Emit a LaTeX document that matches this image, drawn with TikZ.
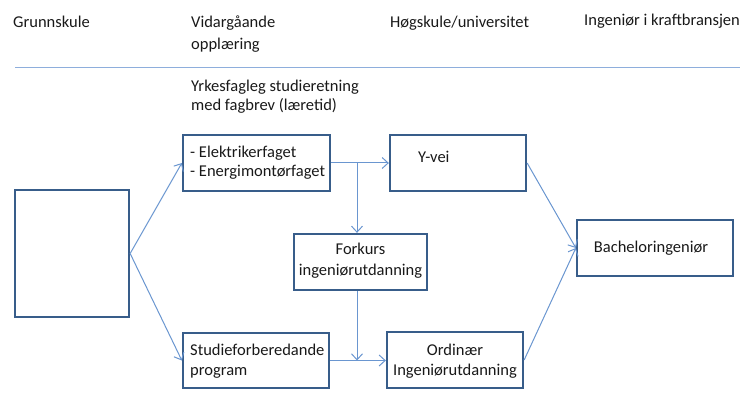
\documentclass[tikz,border=0pt]{standalone}
\usepackage{fontspec}
\setmainfont{Carlito}
\usetikzlibrary{arrows.meta}
\definecolor{boxc}{HTML}{385D8A}
\definecolor{arrc}{HTML}{6A96D0}
\definecolor{rulec}{HTML}{8EAEDC}
\tikzset{
  box/.style={draw=boxc, line width=2.3pt, rectangle, inner sep=0pt},
  conn/.style={draw=arrc, line width=1pt, -{Straight Barb[length=6pt,width=11pt,line width=1pt]}},
  txt/.style={inner sep=0pt, font=\fontsize{16.5}{19.5}\selectfont, text=black!90},
}
\begin{document}
\begin{tikzpicture}[x=1pt,y=-1pt]
\useasboundingbox (0,0) rectangle (750,414);
% header
\node[txt, anchor=base west] (h1) at (13,28) {Grunnskule};
\node[txt, anchor=base west, align=left] (h2) at (191,50) {Vidargåande\\[2.5pt]opplæring};
\node[txt, anchor=base west] (h3) at (390,28) {Høgskule/universitet};
\node[txt, anchor=base west] (h4) at (584,26) {Ingeniør i kraftbransjen};
\coordinate (r1) at (15,68);
\coordinate (r2) at (740,68);
\draw[draw=rulec, line width=1pt] (r1) -- (r2);
\node[txt, anchor=base west, align=left] (yrk) at (191,111) {Yrkesfagleg studieretning\\med fagbrev (læretid)};
% boxes
\node[box, minimum width=114pt, minimum height=127pt] (gs) at (72,253.5) {};
\node[box, minimum width=147pt, minimum height=56pt] (el) at (256.5,163) {};
\node[box, minimum width=136pt, minimum height=56pt] (yv) at (458,163) {};
\node[box, minimum width=133pt, minimum height=56pt] (fk) at (360.5,262) {};
\node[box, minimum width=146pt, minimum height=55pt] (sf) at (256,360.5) {};
\node[box, minimum width=136pt, minimum height=56pt] (on) at (455,360) {};
\node[box, minimum width=156pt, minimum height=56pt] (ba) at (655,248) {};
% texts
\node[txt, anchor=base west, align=left] (elt) at (190,177) {- Elektrikerfaget\\- Energimontørfaget};
\node[txt, anchor=base west] (yvt) at (418,163) {Y-vei};
\node[txt, anchor=base, align=center] (fkt) at (360.5,276) {Forkurs\\[2pt]ingeniørutdanning};
\node[txt, anchor=base west, align=left] (sft) at (190,375) {Studieforberedande\\program};
\node[txt, anchor=base, align=center] (ont) at (455,375) {Ordinær\\Ingeniørutdanning};
\node[txt, anchor=base] (bat) at (651,253) {Bacheloringeniør};
% connectors
\coordinate (b1) at (357,163);
\coordinate (b2) at (357,360.5);
\draw[conn] (gs.east) -- (el.west);
\draw[conn] (gs.east) -- (sf.west);
\draw[conn] (el.east) -- (yv.west);
\draw[conn] (b1) -- (fk.north -| b1);
\draw[conn] (fk.south -| b2) -- (b2);
\draw[conn] (sf.east) -- (on.west |- sf.east);
\draw[conn] (yv.east) -- (ba.west);
\draw[conn] (on.east) -- (ba.west);
\end{tikzpicture}
\end{document}
